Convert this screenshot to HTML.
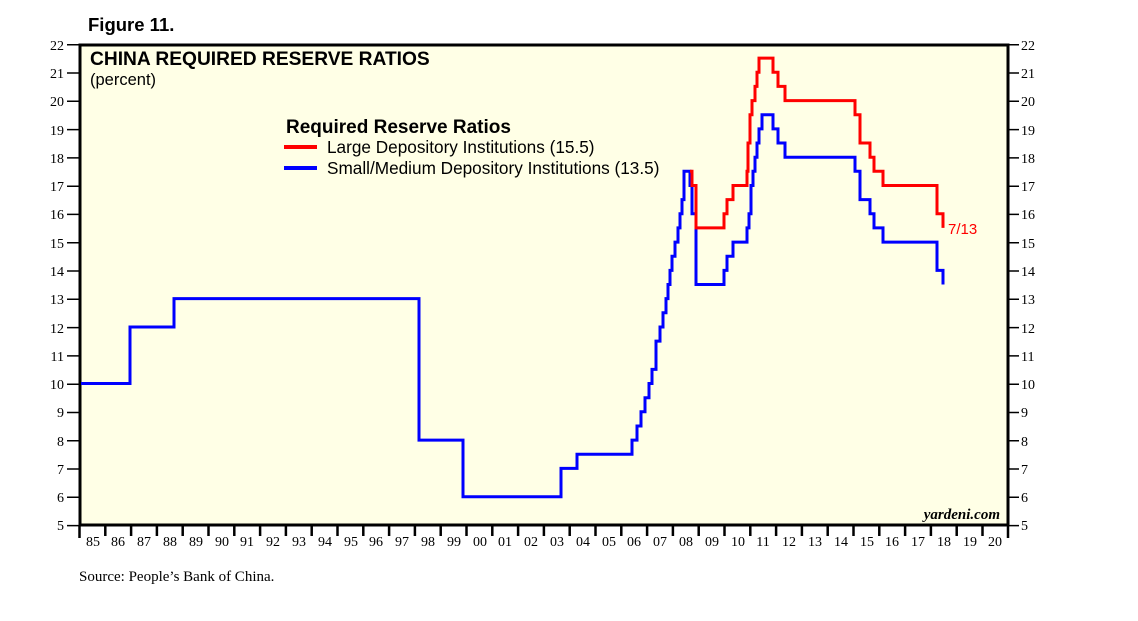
<!DOCTYPE html>
<html><head><meta charset="utf-8"><style>body{margin:0;background:#fff}svg{display:block}</style></head>
<body>
<svg width="1138" height="621" viewBox="0 0 1138 621" xmlns="http://www.w3.org/2000/svg">
<text x="88" y="31" font-family="Liberation Sans, sans-serif" font-weight="bold" font-size="18.5">Figure 11.</text>
<rect x="80" y="45" width="928" height="480" fill="#ffffe6" stroke="#000" stroke-width="3"/>
<g stroke="#000" stroke-width="1.5">
<path d="M67,44.7H79M67,73H79M67,101.3H79M67,129.6H79M67,157.9H79M67,186.2H79M67,214.4H79M67,242.7H79M67,271H79M67,299.3H79M67,327.6H79M67,355.9H79M67,384.2H79M67,412.5H79M67,440.8H79M67,469H79M67,497.3H79M67,525.6H79"/>
<path d="M1009,44.7H1019M1009,73H1019M1009,101.3H1019M1009,129.6H1019M1009,157.9H1019M1009,186.2H1019M1009,214.4H1019M1009,242.7H1019M1009,271H1019M1009,299.3H1019M1009,327.6H1019M1009,355.9H1019M1009,384.2H1019M1009,412.5H1019M1009,440.8H1019M1009,469H1019M1009,497.3H1019M1009,525.6H1019"/>
</g>
<g stroke="#000" stroke-width="2.5">
<path d="M79.5,526V538M105.3,526V536M131.1,526V536M156.9,526V536M182.7,526V536M208.5,526V536M234.3,526V536M260.1,526V536M285.9,526V536M311.7,526V536M337.5,526V536M363.3,526V536M389.1,526V536M414.9,526V536M440.7,526V536M466.5,526V536M492.3,526V536M518.1,526V536M543.9,526V536M569.7,526V536M595.5,526V536M621.3,526V536M647.1,526V536M672.9,526V536M698.7,526V536M724.5,526V536M750.3,526V536M776.1,526V536M801.9,526V536M827.7,526V536M853.5,526V536M879.3,526V536M905.1,526V536M930.9,526V536M956.7,526V536M982.5,526V536M1008,526V538"/>
</g>
<g font-family="Liberation Serif, serif" font-size="14" fill="#000" text-anchor="end">
<text x="64" y="50">22</text><text x="64" y="78">21</text><text x="64" y="106">20</text><text x="64" y="135">19</text><text x="64" y="163">18</text><text x="64" y="191">17</text><text x="64" y="219">16</text><text x="64" y="248">15</text><text x="64" y="276">14</text><text x="64" y="304">13</text><text x="64" y="333">12</text><text x="64" y="361">11</text><text x="64" y="389">10</text><text x="64" y="417">9</text><text x="64" y="446">8</text><text x="64" y="474">7</text><text x="64" y="502">6</text><text x="64" y="530">5</text>
</g>
<g font-family="Liberation Serif, serif" font-size="14" fill="#000">
<text x="1021" y="50">22</text><text x="1021" y="78">21</text><text x="1021" y="106">20</text><text x="1021" y="135">19</text><text x="1021" y="163">18</text><text x="1021" y="191">17</text><text x="1021" y="219">16</text><text x="1021" y="248">15</text><text x="1021" y="276">14</text><text x="1021" y="304">13</text><text x="1021" y="333">12</text><text x="1021" y="361">11</text><text x="1021" y="389">10</text><text x="1021" y="417">9</text><text x="1021" y="446">8</text><text x="1021" y="474">7</text><text x="1021" y="502">6</text><text x="1021" y="530">5</text>
</g>
<g font-family="Liberation Serif, serif" font-size="14" fill="#000" text-anchor="middle">
<text x="93" y="546">85</text><text x="118" y="546">86</text><text x="144" y="546">87</text><text x="170" y="546">88</text><text x="196" y="546">89</text><text x="222" y="546">90</text><text x="247" y="546">91</text><text x="273" y="546">92</text><text x="299" y="546">93</text><text x="325" y="546">94</text><text x="351" y="546">95</text><text x="376" y="546">96</text><text x="402" y="546">97</text><text x="428" y="546">98</text><text x="454" y="546">99</text><text x="480" y="546">00</text><text x="505" y="546">01</text><text x="531" y="546">02</text><text x="557" y="546">03</text><text x="583" y="546">04</text><text x="609" y="546">05</text><text x="634" y="546">06</text><text x="660" y="546">07</text><text x="686" y="546">08</text><text x="712" y="546">09</text><text x="738" y="546">10</text><text x="763" y="546">11</text><text x="789" y="546">12</text><text x="815" y="546">13</text><text x="841" y="546">14</text><text x="867" y="546">15</text><text x="892" y="546">16</text><text x="918" y="546">17</text><text x="944" y="546">18</text><text x="970" y="546">19</text><text x="995" y="546">20</text>
</g>
<text x="90" y="65" font-family="Liberation Sans, sans-serif" font-weight="bold" font-size="19.2">CHINA REQUIRED RESERVE RATIOS</text>
<text x="90" y="85" font-family="Liberation Sans, sans-serif" font-size="16.5">(percent)</text>
<text x="286" y="133" font-family="Liberation Sans, sans-serif" font-weight="bold" font-size="19">Required Reserve Ratios</text>
<line x1="284" y1="147" x2="317" y2="147" stroke="#ff0000" stroke-width="4"/>
<line x1="284" y1="168" x2="317" y2="168" stroke="#0000ff" stroke-width="4"/>
<text x="327" y="153" font-family="Liberation Sans, sans-serif" font-size="17.2">Large Depository Institutions (15.5)</text>
<text x="327" y="174" font-family="Liberation Sans, sans-serif" font-size="17.2">Small/Medium Depository Institutions (13.5)</text>
<path fill="none" stroke="#0000ff" stroke-width="3" d="M81,383.5 H130 V327 H174 V298.6 H419 V440.1 H463 V496.7 H561 V468.4 H577 V454.3 H632 V440.1 H637 V426 H641 V411.8 H645 V397.7 H649 V383.5 H652 V369.4 H656 V341.1 H660 V327 H663 V312.8 H666 V298.6 H668 V284.5 H670 V270.4 H672 V256.2 H675 V242.1 H678 V227.9 H680 V213.8 H682 V199.6 H684 V171.3 H690 V185.5 H692 V213.8 H696 V284.5 H724 V270.4 H727 V256.2 H733 V242.1 H747 V227.9 H749 V213.8 H751 V185.5 H753 V171.3 H755 V157.2 H757 V143 H759 V128.9 H762 V114.7 H773 V128.9 H778 V143 H785 V157.2 H855 V171.3 H860 V199.6 H870 V213.8 H874 V227.9 H883 V242.1 H937 V270.4 H943 V284.5"/>
<path fill="none" stroke="#ff0000" stroke-width="3" d="M690,171.3 H692 V185.5 H696 V227.9 H724 V213.8 H727 V199.6 H733 V185.5 H747 V171.3 H748 V143 H750 V114.7 H752 V100.6 H755 V86.4 H757 V72.3 H759 V58.1 H773 V72.3 H778 V86.4 H785 V100.6 H855 V114.7 H860 V143 H870 V157.2 H874 V171.3 H883 V185.5 H937 V213.8 H943 V227.9"/>
<text x="948" y="234" font-family="Liberation Sans, sans-serif" font-size="15" fill="#ff0000">7/13</text>
<text x="1000" y="519" text-anchor="end" font-family="Liberation Serif, serif" font-style="italic" font-weight="bold" font-size="15">yardeni.com</text>
<text x="79" y="581" font-family="Liberation Serif, serif" font-size="15">Source: People’s Bank of China.</text>
</svg>
</body></html>
